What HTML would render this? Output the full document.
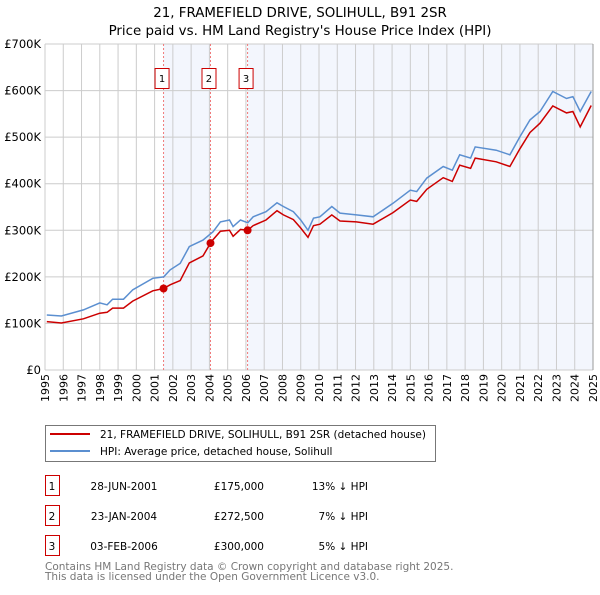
<!DOCTYPE html>
<html><head><meta charset="utf-8"><style>
body{margin:0;background:#fff;}
svg text{font-family:"DejaVu Sans","Liberation Sans",sans-serif;}
</style></head><body>
<svg id="c" width="600" height="590" xmlns="http://www.w3.org/2000/svg">
<text x="300" y="17" text-anchor="middle" font-size="13.4">21, FRAMEFIELD DRIVE, SOLIHULL, B91 2SR</text>
<text x="300" y="35" text-anchor="middle" font-size="13.4">Price paid vs. HM Land Registry's House Price Index (HPI)</text>
<g id="plot"></g>
<g>
<rect x="45.5" y="425.5" width="390" height="36" fill="#fff" stroke="#777"/>
<line x1="50" y1="434" x2="90" y2="434" stroke="#cc0000" stroke-width="2"/>
<text x="100" y="438" font-size="10.5">21, FRAMEFIELD DRIVE, SOLIHULL, B91 2SR (detached house)</text>
<line x1="50" y1="451" x2="90" y2="451" stroke="#5b8fd0" stroke-width="2"/>
<text x="100" y="455" font-size="10.5">HPI: Average price, detached house, Solihull</text>
</g>
<g id="tbl"></g>
<text x="45" y="570" font-size="10.5" fill="#777">Contains HM Land Registry data © Crown copyright and database right 2025.</text>
<text x="45" y="580" font-size="10.5" fill="#777">This data is licensed under the Open Government Licence v3.0.</text>
</svg>
<script>
const hpiYears=[1995.1,1995.9,1997.1,1998,1998.4,1998.7,1999.3,1999.8,2000.9,2001.5,2001.85,2002.4,2002.9,2003.65,2004.2,2004.6,2005.1,2005.3,2005.7,2006.1,2006.4,2007.1,2007.7,2008.05,2008.6,2009.0,2009.4,2009.7,2010.05,2010.7,2011.15,2012.05,2012.96,2014.05,2015,2015.35,2015.9,2016.8,2017.3,2017.7,2018.3,2018.55,2019.7,2020.45,2021.0,2021.55,2022.1,2022.8,2023.55,2023.9,2024.3,2024.9];
const hpiValues=[118,116,129,144,140,152,152,172,197,200,215,229,265,279,297,318,322,308,322,316,329,340,359,351,340,322,300,326,329,351,337,333,329,358,386,383,412,437,429,462,455,479,472,462,501,537,555,598,583,587,555,598];
const redYears=[1995.1,1995.9,1997.1,1998,1998.4,1998.7,1999.3,1999.8,2000.9,2001.49,2001.85,2002.4,2002.9,2003.65,2004.06,2004.2,2004.6,2005.1,2005.3,2005.7,2006.09,2006.4,2007.1,2007.7,2008.05,2008.6,2009.0,2009.4,2009.7,2010.05,2010.7,2011.15,2012.05,2012.96,2014.05,2015,2015.35,2015.9,2016.8,2017.3,2017.7,2018.3,2018.55,2019.7,2020.45,2021.0,2021.55,2022.1,2022.8,2023.55,2023.9,2024.3,2024.9];
const redValues=[104,101,110,122,124,133,133,148,170,175,183,192,230,245,272.5,280,298,300,287,302,300,310,322,342,333,323,305,285,310,313,333,320,318,313,338,365,362,388,413,405,440,433,455,447,437,475,510,530,567,552,555,522,568];
const saleYears=[2001.49,2004.06,2006.09];
const saleValues=[175,272.5,300];
const saleLabels=["1","2","3"];
const saleDates=["28-JUN-2001","23-JAN-2004","03-FEB-2006"];
const salePrices=["£175,000","£272,500","£300,000"];
const saleDiffs=["13% ↓ HPI","7% ↓ HPI","5% ↓ HPI"];
const yTicks=[0,100,200,300,400,500,600,700];
const yTickLabels=["£0","£100K","£200K","£300K","£400K","£500K","£600K","£700K"];
const xTicks=[1995,1996,1997,1998,1999,2000,2001,2002,2003,2004,2005,2006,2007,2008,2009,2010,2011,2012,2013,2014,2015,2016,2017,2018,2019,2020,2021,2022,2023,2024,2025];

const L=45,R=593,T=44,B=370,X0=1995,X1=2025,YMAX=700;
const sx=v=>L+(v-X0)/(X1-X0)*(R-L);
const sy=v=>B-v/YMAX*(B-T);
const NS="http://www.w3.org/2000/svg";
const g=document.getElementById('plot');
function mk(tag,at,parent){const e=document.createElementNS(NS,tag);for(const k in at)e.setAttribute(k,at[k]);(parent||g).appendChild(e);return e;}
let e=mk('rect',{x:sx(saleYears[0]),y:T,width:sx(saleYears[1])-sx(saleYears[0]),height:B-T,fill:'#f3f6fd'});


e=mk('rect',{x:sx(saleYears[2]),y:T,width:R-sx(saleYears[2]),height:B-T,fill:'#f3f6fd'});


xTicks.forEach((t,i)=>{
 e=mk('line',{x1:sx(t),x2:sx(t),y1:T,y2:B,stroke:'#cccccc','stroke-width':1});
 
 
 const x=sx(t),y=B+4;
 e=mk('text',{x:x+4,y:y,'font-size':11,'text-anchor':'end',transform:`rotate(-90 ${x+4} ${y})`});
 e.textContent=t;
 
 
});
yTicks.forEach((t,i)=>{
 e=mk('line',{x1:L,x2:R,y1:sy(t),y2:sy(t),stroke:'#cccccc','stroke-width':1});
 
 
 e=mk('text',{x:L-4,y:sy(t)+4,'font-size':11.5,'text-anchor':'end'});
 e.textContent=yTickLabels[i];
 
 
});
saleYears.forEach((s,i)=>{
 e=mk('line',{x1:sx(s),x2:sx(s),y1:T,y2:B,stroke:'#f07a7a','stroke-width':1,'stroke-dasharray':'2,2'});
 
 
 e=mk('rect',{x:sx(s)-8.5,y:68.5,width:14,height:20,fill:'#fff',stroke:'#cc0000'});
 
 
 e=mk('text',{x:sx(s)-1.5,y:82,'font-size':10,'text-anchor':'middle'});
 e.textContent=saleLabels[i];
 
 
});
const path=(xs,vs)=>xs.map((x,i)=>(i?'L':'M')+sx(x).toFixed(1)+','+sy(vs[i]).toFixed(1)).join(' ');
e=mk('path',{d:path(hpiYears,hpiValues),fill:'none',stroke:'#5b8fd0','stroke-width':1.5});


e=mk('path',{d:path(redYears,redValues),fill:'none',stroke:'#cc0000','stroke-width':1.5});


saleYears.forEach((s,i)=>{
 e=mk('circle',{cx:sx(s),cy:sy(saleValues[i]),r:4,fill:'#cc0000'});
 
 
});
e=mk('line',{x1:R,x2:R,y1:T,y2:B,stroke:'#999','stroke-width':1});


const tb=document.getElementById('tbl');
saleLabels.forEach((lab,i)=>{
 const y=475+i*30;
 e=mk('rect',{x:45.5,y:y+0.5,width:14,height:20,fill:'#fff',stroke:'#cc0000'},tb);
 
 
 const cells=[[52,lab,'middle'],[124,saleDates[i],'middle'],[264,salePrices[i],'end'],[368,saleDiffs[i],'end']];
 cells.forEach(c=>{
  e=mk('text',{x:c[0],y:y+15,'font-size':10.5,'text-anchor':c[2]},tb);
  e.textContent=c[1];
  
  
 });
});
</script>
</body></html>
